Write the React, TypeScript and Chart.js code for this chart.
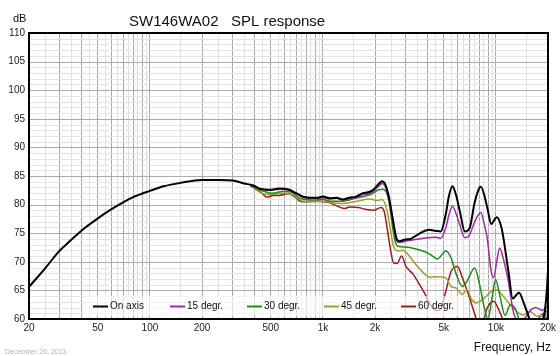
import React, { useEffect, useRef } from "react";
import { Chart, registerables } from "chart.js";

Chart.register(...registerables);

// ---- data ----
const chartTitle = "SW146WA02   SPL response";
const yAxisTitle = "dB";
const xAxisTitle = "Frequency, Hz";
const dateNote = "December 26, 2013";

const seriesNames = ["On axis", "15 degr.", "30 degr.", "45 degr.", "60 degr."];
const seriesColors = ["#000000", "#a02ca0", "#1c8c1c", "#a0a028", "#9a1e1e"];

const xTickLabels = [20, 50, 100, 200, 500, 1000, 2000, 5000, 10000, 20000];
const yMin = 60;
const yMax = 110;

const onAxisFreq = [20, 25, 30, 35, 40, 50, 60, 70, 80, 100, 120, 150, 200, 250, 300, 350, 400, 430, 490, 560, 640, 700, 790, 920, 1000, 1100, 1200, 1300, 1420, 1550, 1700, 1850, 1970, 2100, 2200, 2280, 2400, 2520, 2660, 2760, 3000, 3200, 3600, 4100, 4500, 4800, 5130, 5350, 5600, 5900, 6180, 6610, 7050, 7540, 8180, 8900, 9390, 10100, 10800, 11800, 12500, 13600, 14600, 15800, 17000, 18500, 19200, 19700, 20000];
const onAxisDb = [65.6, 69.0, 71.9, 73.8, 75.4, 77.6, 79.2, 80.4, 81.3, 82.4, 83.2, 83.8, 84.3, 84.3, 84.2, 83.7, 83.3, 82.8, 82.6, 82.8, 82.6, 82.0, 81.3, 81.2, 81.4, 81.1, 81.2, 80.9, 81.2, 81.4, 82.0, 82.2, 82.7, 83.6, 84.1, 83.7, 81.5, 77.9, 74.1, 73.6, 73.9, 74.0, 74.9, 75.6, 75.4, 75.3, 78.3, 81.5, 83.2, 81.5, 78.9, 75.3, 75.9, 80.4, 83.1, 79.6, 76.6, 77.8, 75.8, 68.4, 63.6, 64.6, 62.5, 59.7, 58.0, 59.0, 61.5, 65.0, 68.5];

const deg15Freq = [380, 430, 490, 560, 640, 700, 790, 920, 1000, 1100, 1200, 1300, 1420, 1550, 1700, 1850, 1970, 2100, 2200, 2280, 2400, 2520, 2660, 2760, 3000, 3300, 3600, 4100, 4500, 4800, 5130, 5350, 5600, 5900, 6180, 6610, 7040, 7540, 8180, 8580, 8900, 9390, 9700, 10100, 10500, 11000, 11800, 12600, 13300, 14600, 15800, 17000, 18500, 20000];
const deg15Db = [83.4, 82.8, 82.5, 82.7, 82.5, 81.9, 81.2, 81.1, 81.2, 81.0, 81.1, 80.8, 81.0, 81.2, 81.7, 81.9, 82.4, 83.2, 83.7, 83.3, 81.0, 77.5, 73.9, 73.4, 73.6, 73.8, 74.0, 74.2, 74.3, 74.1, 75.9, 78.2, 79.7, 78.3, 76.5, 74.2, 74.7, 77.0, 78.6, 76.5, 74.2, 68.3, 67.2, 70.0, 72.4, 70.7, 66.6, 61.3, 60.0, 60.1, 61.5, 62.0, 61.5, 62.3];

const deg30Freq = [380, 430, 460, 510, 590, 650, 737, 860, 1000, 1100, 1300, 1580, 1870, 2100, 2230, 2400, 2500, 2600, 2720, 3000, 3500, 4000, 4300, 4600, 5130, 5500, 5900, 6400, 6800, 7540, 8050, 8580, 9000, 9500, 9950, 10500, 11300, 12100, 12900, 13800, 15000, 17000, 18500, 19500, 20000];
const deg30Db = [83.3, 82.6, 82.3, 82.0, 82.3, 82.2, 81.1, 80.8, 80.9, 80.6, 80.6, 81.2, 81.7, 82.6, 82.7, 80.8, 77.1, 73.9, 72.7, 72.6, 72.2, 71.6, 71.0, 70.5, 71.9, 70.7, 67.8, 65.7, 66.6, 68.9, 66.0, 61.9, 60.0, 63.7, 66.9, 64.3, 60.6, 62.5, 61.9, 59.5, 58.5, 58.5, 60.0, 61.5, 60.5];

const deg45Freq = [380, 430, 470, 510, 590, 680, 750, 870, 1000, 1100, 1320, 1580, 1870, 2050, 2200, 2350, 2460, 2560, 2700, 2900, 3100, 3450, 3800, 4150, 4500, 5130, 5500, 5900, 6400, 6800, 7240, 7700, 8580, 9400, 10100, 10800, 12100, 13200, 14400, 15800, 17200, 19000, 20000];
const deg45Db = [83.3, 82.2, 81.8, 81.8, 82.0, 81.6, 80.7, 80.5, 80.6, 80.4, 80.2, 80.6, 81.0, 80.7, 80.9, 78.9, 75.4, 72.7, 71.9, 72.0, 71.3, 69.5, 68.1, 67.3, 67.4, 67.2, 65.7, 65.4, 64.3, 65.1, 63.4, 62.8, 63.7, 64.8, 65.1, 64.3, 62.5, 61.3, 60.7, 61.3, 60.5, 60.6, 60.3];

const deg60Freq = [380, 420, 444, 474, 515, 560, 630, 690, 737, 805, 920, 1100, 1220, 1340, 1420, 1600, 1750, 1970, 2160, 2250, 2350, 2450, 2560, 2680, 2850, 3020, 3330, 3620, 3900, 4170, 4500, 4750, 5130, 5500, 6000, 6400, 7040, 7700, 8200, 8900, 9700, 10500, 11300, 13000, 15500, 17500, 19000, 20000];
const deg60Db = [83.3, 82.6, 82.0, 81.3, 81.6, 81.6, 81.9, 81.3, 80.6, 80.5, 80.6, 80.3, 79.7, 79.3, 79.6, 79.5, 79.2, 79.0, 79.5, 79.0, 75.9, 72.4, 69.8, 69.7, 71.0, 69.2, 67.8, 66.0, 64.3, 62.5, 61.5, 61.6, 64.8, 68.3, 69.2, 67.2, 63.7, 60.1, 58.5, 61.9, 63.1, 61.3, 59.0, 57.0, 58.0, 60.0, 61.0, 59.5];

const seriesFreqs = [onAxisFreq, deg15Freq, deg30Freq, deg45Freq, deg60Freq];
const seriesDbs = [onAxisDb, deg15Db, deg30Db, deg45Db, deg60Db];

// grid positions: every 1..9 multiple (dark) and half step (light)
function buildXGrid(): { v: number; major: boolean }[] {
  const out: { v: number; major: boolean }[] = [];
  for (const d of [10, 100, 1000, 10000]) {
    for (let m = 1; m <= 9; m++) {
      const v = m * d;
      if (v >= 20 && v <= 20000) out.push({ v, major: true });
      const h = (m + 0.5) * d;
      if (h > 20 && h < 20000) out.push({ v: h, major: false });
    }
  }
  return out.sort((a, b) => a.v - b.v);
}

function buildYGrid(): number[] {
  const out: number[] = [];
  for (let v = yMin; v <= yMax; v++) out.push(v);
  return out;
}

const FONT = "'Liberation Sans', Arial, Helvetica, sans-serif";

function fmtHz(v: number): string {
  return v >= 1000 ? `${v / 1000}k` : `${v}`;
}

export default function App() {
  const ref = useRef<HTMLCanvasElement | null>(null);

  useEffect(() => {
    if (!ref.current) return;
    const xGrid = buildXGrid();
    const yGrid = buildYGrid();
    const majorSet = new Set(xGrid.filter((g) => g.major).map((g) => g.v));

    const textPlugin = {
      id: "texts",
      beforeDatasetsDraw(chart: any) {
        const { ctx, chartArea, scales } = chart;
        ctx.save();
        ctx.lineWidth = 1;
        yGrid.forEach((v) => {
          const y = Math.round(scales.y.getPixelForValue(v)) + 0.5;
          ctx.strokeStyle = v % 5 === 0 ? "#acacac" : "#e4e4e4";
          ctx.beginPath();
          ctx.moveTo(chartArea.left, y);
          ctx.lineTo(chartArea.right, y);
          ctx.stroke();
        });
        ctx.restore();
      },
      afterDatasetsDraw(chart: any) {
        const { ctx, chartArea } = chart;
        // legend
        ctx.save();
        const lx = chartArea.left + 56;
        const ly = chartArea.bottom - 23;
        ctx.fillStyle = "rgba(255,255,255,0.6)";
        ctx.fillRect(lx, ly, 378, 20);
        ctx.font = `10px ${FONT}`;
        ctx.textBaseline = "middle";
        seriesNames.forEach((n, i) => {
          const x0 = lx + 8 + i * 77;
          const yy = ly + 10.5;
          ctx.strokeStyle = seriesColors[i];
          ctx.lineWidth = 2;
          ctx.beginPath();
          ctx.moveTo(x0, yy);
          ctx.lineTo(x0 + 15, yy);
          ctx.stroke();
          ctx.fillStyle = "#111";
          ctx.fillText(n, x0 + 17, yy);
        });
        // border
        ctx.strokeStyle = "#000";
        ctx.lineWidth = 2;
        ctx.strokeRect(chartArea.left, chartArea.top, chartArea.right - chartArea.left, chartArea.bottom - chartArea.top);
        ctx.restore();
      },
      afterDraw(chart: any) {
        const { ctx } = chart;
        ctx.save();
        ctx.fillStyle = "#111";
        ctx.textBaseline = "alphabetic";
        ctx.font = `15px ${FONT}`;
        ctx.textAlign = "left";
        ctx.fillText(chartTitle, 129, 26);
        ctx.font = `11px ${FONT}`;
        ctx.fillText(yAxisTitle, 13, 22);
        ctx.font = `12px ${FONT}`;
        ctx.textAlign = "right";
        ctx.fillText(xAxisTitle, 551, 351);
        ctx.font = `7px ${FONT}`;
        ctx.textAlign = "left";
        ctx.fillStyle = "#b4b4b4";
        ctx.fillText(dateNote, 5, 354);
        ctx.restore();
      },
    };

    const datasets = seriesNames.map((name, i) => ({
      label: name,
      data: seriesFreqs[i].map((f, k) => ({ x: f, y: seriesDbs[i][k] })),
      borderColor: seriesColors[i],
      backgroundColor: seriesColors[i],
      borderWidth: i === 0 ? 2 : 1.5,
      pointRadius: 0,
      cubicInterpolationMode: "monotone" as const,
      fill: false,
    }));

    const chart = new Chart(ref.current, {
      type: "line",
      data: { datasets },
      options: {
        animation: false,
        responsive: false,
        events: [],
        layout: { padding: { top: 33, right: 12, left: 0, bottom: 0 } },
        plugins: { legend: { display: false }, tooltip: { enabled: false }, title: { display: false } },
        scales: {
          x: {
            type: "logarithmic",
            min: 20,
            max: 20000,
            border: { display: false },
            afterBuildTicks: (scale: any) => {
              scale.ticks = xGrid.map((g) => ({ value: g.v }));
            },
            afterFit: (scale: any) => {
              scale.height = 37;
            },
            grid: {
              drawTicks: false,
              color: (c: any) => (majorSet.has(c.tick?.value) ? "#a8a8a8" : "#e0e0e0"),
              lineWidth: 1,
            },
            ticks: {
              autoSkip: false,
              maxRotation: 0,
              minRotation: 0,
              padding: 3,
              color: "#222",
              font: { family: FONT, size: 10 },
              callback: (v: any) => (xTickLabels.includes(Number(v)) ? fmtHz(Number(v)) : ""),
            },
          },
          y: {
            type: "linear",
            min: yMin,
            max: yMax,
            border: { display: false },
            afterBuildTicks: (scale: any) => {
              scale.ticks = yGrid.filter((v) => v % 5 === 0).map((v) => ({ value: v }));
            },
            afterFit: (scale: any) => {
              scale.width = 29;
            },
            grid: { display: false, drawTicks: false },
            ticks: {
              autoSkip: false,
              padding: 4,
              color: "#222",
              font: { family: FONT, size: 10 },
            },
          },
        },
      },
      plugins: [textPlugin],
    } as any);

    return () => chart.destroy();
  }, []);

  return (
    <div style={{ position: "fixed", left: 0, top: 0, width: 560, height: 356, background: "#fff" }}>
      <canvas ref={ref} width={560} height={356} style={{ display: "block", width: 560, height: 356 }} />
    </div>
  );
}
